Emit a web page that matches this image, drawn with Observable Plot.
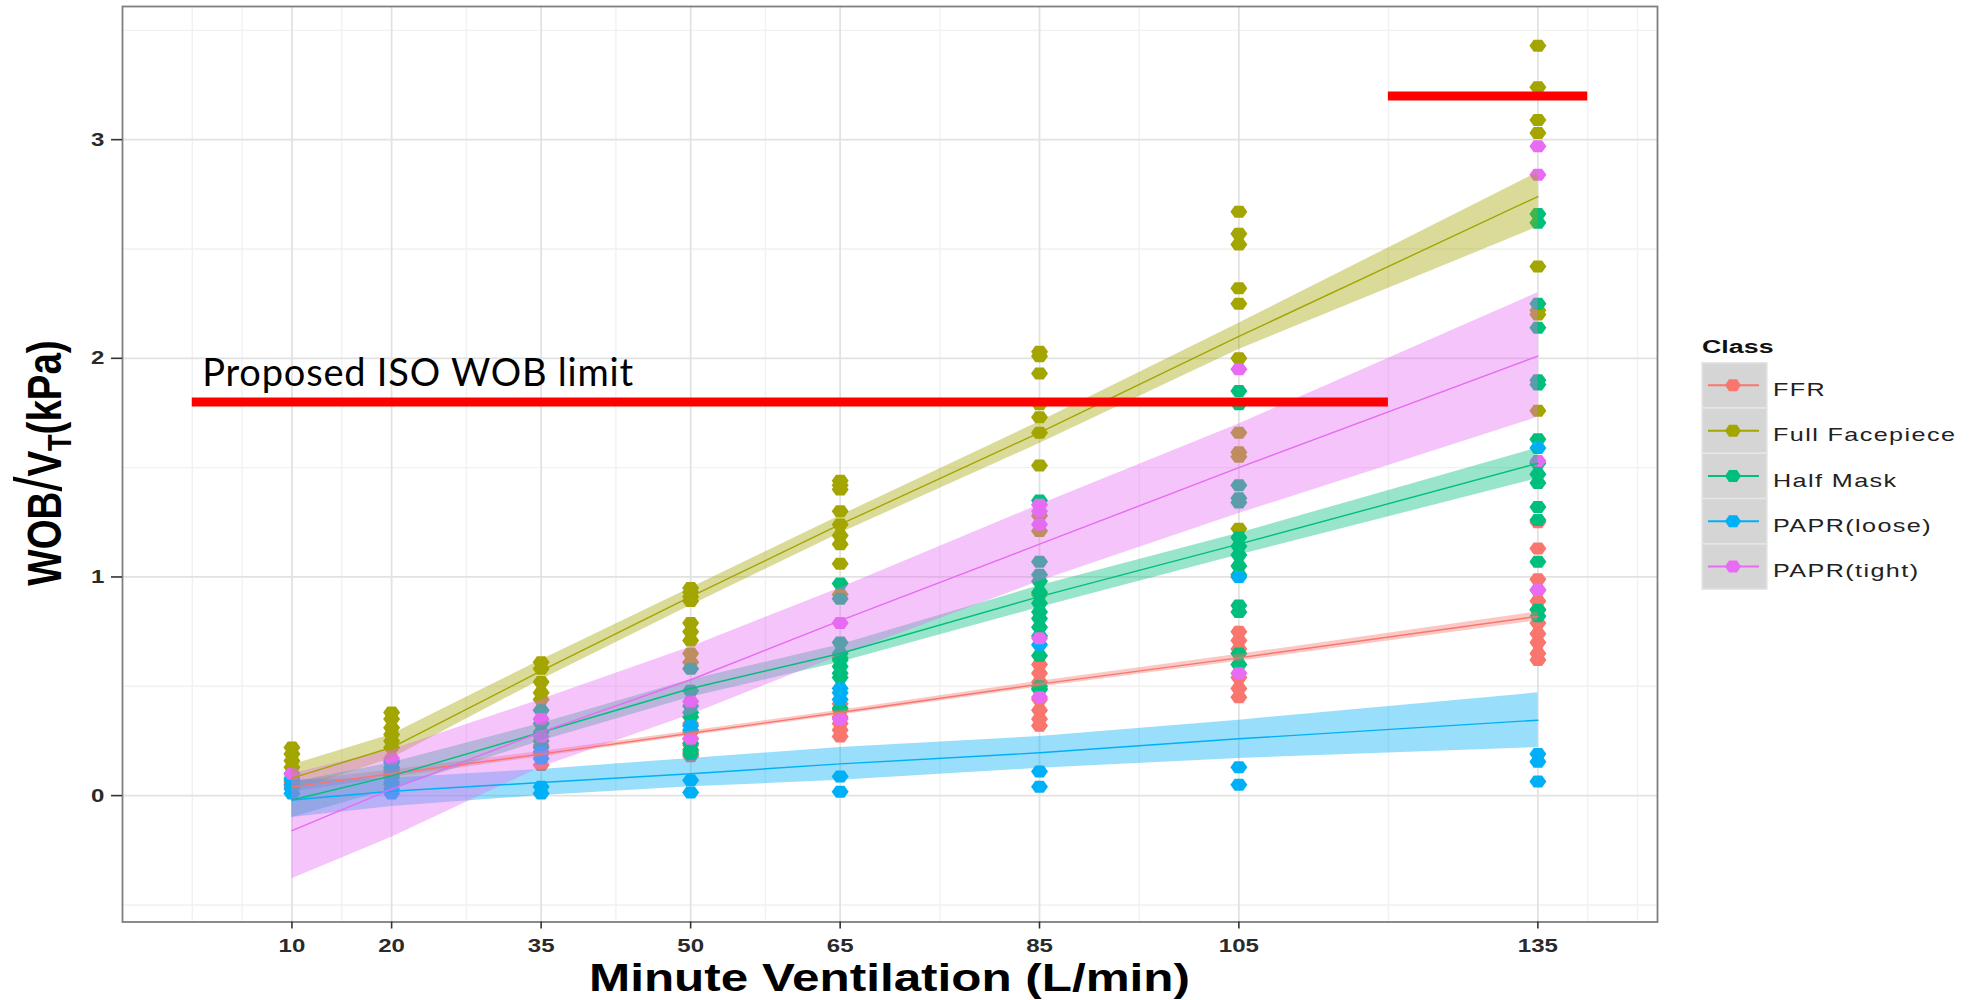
<!DOCTYPE html>
<html><head><meta charset="utf-8">
<script src="https://cdn.jsdelivr.net/npm/d3@7"></script>
<script src="https://cdn.jsdelivr.net/npm/@observablehq/plot@0.6"></script>
<style>
body{margin:0;background:#fff;}
#wrap{position:relative;width:1982px;height:1000px;overflow:hidden;background:#fff;}
#wrap svg{position:absolute;left:0;top:0;}
</style></head><body><div id="wrap"></div>
<script>
// ---------- categories / scales ----------
const classes = ["FFR", "Full Facepiece", "Half Mask", "PAPR(loose)", "PAPR(tight)"];
const classColors = ["#F8766D", "#A3A500", "#00BF7D", "#00B0F6", "#E76BF3"];
const xBreaks = [10, 20, 35, 50, 65, 85, 105, 135];
const xMinor = [0, 5, 15, 27.5, 42.5, 57.5, 75, 95, 120, 140, 145];
const yBreaks = [0, 1, 2, 3];
const yMinor = [-0.5, 0.5, 1.5, 2.5, 3.5];
const xTitle = "Minute Ventilation (L/min)";
const legendTitle = "Class";

// ---------- observed points [minute ventilation, WOB/VT] ----------
const ffrPoints = [
  [10,0.04],[10,0.06],
  [20,0.05],[20,0.08],[20,0.11],
  [35,0.14],[35,0.19],[35,0.23],
  [50,0.18],[50,0.20],[50,0.23],[50,0.26],[50,0.29],[50,0.33],
  [65,0.27],[65,0.30],[65,0.33],[65,0.36],[65,0.39],[65,0.42],
  [85,0.32],[85,0.35],[85,0.39],[85,0.44],[85,0.49],[85,0.52],[85,0.56],[85,0.60],
  [105,0.45],[105,0.49],[105,0.54],[105,0.67],[105,0.71],[105,0.75],
  [135,0.62],[135,0.65],[135,0.70],[135,0.74],[135,0.79],[135,0.85],[135,0.89],[135,0.94],[135,0.99],[135,1.13],[135,1.25]
];
const fullPoints = [
  [10,0.13],[10,0.16],[10,0.19],[10,0.22],
  [20,0.22],[20,0.25],[20,0.28],[20,0.31],[20,0.35],[20,0.38],
  [35,0.44],[35,0.47],[35,0.52],[35,0.58],[35,0.61],
  [50,0.61],[50,0.65],[50,0.71],[50,0.75],[50,0.79],[50,0.89],[50,0.91],[50,0.93],[50,0.95],
  [65,0.63],[65,0.92],[65,1.06],[65,1.15],[65,1.19],[65,1.24],[65,1.30],[65,1.40],[65,1.42],[65,1.44],
  [85,0.92],[85,1.21],[85,1.28],[85,1.51],[85,1.66],[85,1.73],[85,1.79],[85,1.93],[85,2.01],[85,2.03],
  [105,1.22],[105,1.55],[105,1.57],[105,1.66],[105,2.00],[105,2.25],[105,2.32],[105,2.52],[105,2.57],[105,2.67],
  [135,1.76],[135,2.20],[135,2.22],[135,2.42],[135,3.03],[135,3.09],[135,3.24],[135,3.43]
];
const halfPoints = [
  [10,0.07],[10,0.10],
  [20,0.09],[20,0.12],[20,0.15],
  [35,0.22],[35,0.25],[35,0.29],[35,0.33],[35,0.39],
  [50,0.19],[50,0.21],[50,0.24],[50,0.36],[50,0.38],[50,0.41],[50,0.48],[50,0.58],
  [65,0.40],[65,0.54],[65,0.56],[65,0.59],[65,0.62],[65,0.65],[65,0.70],[65,0.90],[65,0.97],
  [85,0.485],[85,0.50],[85,0.64],[85,0.73],[85,0.77],[85,0.81],[85,0.84],[85,0.88],[85,0.93],[85,0.98],[85,1.01],[85,1.07],[85,1.35],
  [105,0.60],[105,0.65],[105,0.84],[105,0.87],[105,1.01],[105,1.05],[105,1.10],[105,1.14],[105,1.18],[105,1.34],[105,1.36],[105,1.42],[105,1.79],[105,1.85],
  [135,0.82],[135,0.85],[135,1.07],[135,1.26],[135,1.32],[135,1.43],[135,1.47],[135,1.52],[135,1.63],[135,1.88],[135,1.90],[135,2.14],[135,2.25],[135,2.62],[135,2.66]
];
const loosePoints = [
  [10,0.01],[10,0.03],[10,0.05],[10,0.08],
  [20,0.01],[20,0.03],[20,0.06],[20,0.10],[20,0.13],[20,0.16],
  [35,0.01],[35,0.04],[35,0.17],[35,0.20],
  [50,0.014],[50,0.07],[50,0.30],[50,0.32],
  [65,0.018],[65,0.087],[65,0.44],[65,0.47],[65,0.49],
  [85,0.04],[85,0.11],[85,0.69],
  [105,0.05],[105,0.13],[105,1.00],
  [135,0.065],[135,0.155],[135,0.19],[135,1.59]
];
const tightPoints = [
  [10,0.10],
  [20,0.17],
  [35,0.27],[35,0.35],
  [50,0.26],[50,0.43],
  [65,0.35],[65,0.79],
  [85,0.45],[85,0.72],[85,1.24],[85,1.30],[85,1.33],
  [105,0.56],[105,1.95],
  [135,0.94],[135,1.53],[135,2.84],[135,2.97]
];
const pointsByClass = [ffrPoints, fullPoints, halfPoints, loosePoints, tightPoints];

// ---------- fitted line and confidence band, at each x break ----------
const ffrFit   = [0.04, 0.10, 0.19, 0.285, 0.38, 0.51, 0.63, 0.82];
const ffrLo    = [0.015, 0.083, 0.178, 0.274, 0.369, 0.497, 0.614, 0.80];
const ffrHi    = [0.065, 0.117, 0.202, 0.296, 0.391, 0.523, 0.646, 0.84];
const fullFit  = [0.08, 0.22, 0.57, 0.91, 1.24, 1.66, 2.10, 2.74];
const fullLo   = [0.02, 0.17, 0.53, 0.87, 1.20, 1.61, 2.04, 2.60];
const fullHi   = [0.14, 0.28, 0.62, 0.95, 1.28, 1.71, 2.16, 2.85];
const halfFit  = [-0.02, 0.09, 0.29, 0.49, 0.65, 0.91, 1.15, 1.52];
const halfLo   = [-0.10, 0.03, 0.25, 0.45, 0.61, 0.86, 1.10, 1.45];
const halfHi   = [0.06, 0.15, 0.33, 0.53, 0.69, 0.96, 1.20, 1.59];
const looseFit = [-0.02, 0.02, 0.06, 0.10, 0.145, 0.196, 0.26, 0.345];
const looseLo  = [-0.10, -0.05, 0.00, 0.04, 0.07, 0.125, 0.17, 0.22];
const looseHi  = [0.07, 0.08, 0.12, 0.17, 0.22, 0.27, 0.345, 0.47];
const tightFit = [-0.16, 0.03, 0.29, 0.53, 0.80, 1.15, 1.50, 2.01];
const tightLo  = [-0.38, -0.19, 0.13, 0.37, 0.64, 0.98, 1.29, 1.73];
const tightHi  = [0.10, 0.21, 0.44, 0.68, 0.95, 1.33, 1.70, 2.30];
const fitsByClass = [[ffrFit, ffrLo, ffrHi], [fullFit, fullLo, fullHi], [halfFit, halfLo, halfHi], [looseFit, looseLo, looseHi], [tightFit, tightLo, tightHi]];

// ---------- annotation (proposed limit) ----------
const isoLimits = [{x1: 0, x2: 120, y: 1.8}, {x1: 120, x2: 140, y: 3.2}];
const isoLabel = [{x: 1, y: 1.875, text: "Proposed ISO WOB limit"}];

// ---------- build tables ----------
const points = [];
pointsByClass.forEach((arr, i) => arr.forEach(([x, y]) => points.push({x, y, cls: classes[i]})));
const fits = [];
fitsByClass.forEach(([f, lo, hi], i) => xBreaks.forEach((x, j) => fits.push({x, fit: f[j], lo: lo[j], hi: hi[j], cls: classes[i]})));

const hexSymbol = {
  draw(ctx) {
    ctx.moveTo(-8.5, 0); ctx.lineTo(-4.2, -6); ctx.lineTo(4.2, -6);
    ctx.lineTo(8.5, 0); ctx.lineTo(4.2, 6); ctx.lineTo(-4.2, 6); ctx.closePath();
  }
};

const W = 1982, H = 1000;
const chart = Plot.plot({
  width: W, height: H,
  marginLeft: 122, marginRight: W - 1657, marginTop: 6, marginBottom: H - 921.5,
  style: {fontFamily: "'Liberation Sans', Arial, sans-serif", color: "#333", background: "transparent", overflow: "visible"},
  x: {domain: [-7, 147]},
  y: {domain: [-0.578, 3.609]},
  color: {domain: classes, range: classColors},
  marks: [
    Plot.gridX(xMinor, {stroke: "#f1f1f1", strokeOpacity: 1, strokeWidth: 1.4}),
    Plot.gridY(yMinor, {stroke: "#f1f1f1", strokeOpacity: 1, strokeWidth: 1.4}),
    Plot.gridX(xBreaks, {stroke: "#e2e2e2", strokeOpacity: 1, strokeWidth: 1.8}),
    Plot.gridY(yBreaks, {stroke: "#e2e2e2", strokeOpacity: 1, strokeWidth: 1.8}),
    Plot.dot(points, {x: "x", y: "y", fill: "cls", symbol: hexSymbol}),
    Plot.areaY(fits, {x: "x", y1: "lo", y2: "hi", fill: "cls", z: "cls", fillOpacity: 0.4}),
    Plot.line(fits, {x: "x", y: "fit", stroke: "cls", z: "cls", strokeWidth: 1.4}),
    Plot.ruleY(isoLimits, {y: "y", x1: "x1", x2: "x2", stroke: "#FF0000", strokeWidth: 9}),
    Plot.text(isoLabel, {x: "x", y: "y", text: "text", textAnchor: "start", lineAnchor: "bottom", fontSize: 38, fontFamily: "Lato, 'Open Sans', sans-serif", fill: "#000"}),
    Plot.frame({stroke: "#7f7f7f", strokeWidth: 1.8}),
    Plot.axisX({ticks: xBreaks, tickSize: 7, tickPadding: 10, label: null, tickFormat: d => String(d)}),
    Plot.axisY({ticks: yBreaks, tickSize: 11, tickPadding: 7, label: null, tickFormat: d => String(d)})
  ]
});
document.getElementById("wrap").appendChild(chart);

const svg = d3.select(chart);
svg.select('g[aria-label="text"] text').attr("letter-spacing", 0.8);
// stretch tick labels horizontally like the reference
svg.selectAll('g[aria-label="x-axis tick label"], g[aria-label="y-axis tick label"]')
  .attr("font-size", 18.5).attr("fill", "#2a2a2a").attr("font-weight", 600);
svg.selectAll('g[aria-label="x-axis tick label"] text, g[aria-label="y-axis tick label"] text')
  .each(function() { const t = d3.select(this).attr("transform") || ""; d3.select(this).attr("transform", t + " scale(1.3,1)"); });
svg.selectAll('g[aria-label="x-axis tick"], g[aria-label="y-axis tick"]').attr("stroke", "#333").attr("stroke-width", 1.6);

// axis titles
svg.append("text").attr("transform", "translate(889.5,991) scale(1.3,1)")
  .attr("text-anchor", "middle").attr("font-weight", "bold").attr("font-size", 38)
  .attr("font-family", "'Liberation Sans', Arial, sans-serif").attr("fill", "#000").text(xTitle);
const yt = svg.append("text").attr("transform", "translate(61,463) rotate(-90) scale(1,1.25)")
  .attr("text-anchor", "middle").attr("font-weight", "bold").attr("font-size", 38.5)
  .attr("font-family", "'Liberation Sans', Arial, sans-serif").attr("fill", "#000");
yt.append("tspan").text("WOB");
yt.append("tspan").text("/").attr("font-weight", "normal").attr("font-size", 54);
yt.append("tspan").text("V");
yt.append("tspan").text("T").attr("font-size", 27).attr("dy", 8);
yt.append("tspan").text("(kPa)").attr("dy", -8);

// legend
const lg = d3.select("#wrap").append("svg").attr("width", W).attr("height", H).style("pointer-events", "none");
const lx = 1702, ly = 362.7, kw = 65, kh = 45.3;
lg.append("text").attr("transform", `translate(${lx},353) scale(1.45,1)`).attr("font-weight", "bold")
  .attr("font-size", 18.5).attr("font-family", "'Liberation Sans', Arial, sans-serif").attr("fill", "#111").text(legendTitle);
classes.forEach((c, i) => {
  const y0 = ly + i * kh, cy = y0 + kh / 2;
  lg.append("rect").attr("x", lx).attr("y", y0).attr("width", kw).attr("height", kh)
    .attr("fill", "#d5d5d5").attr("stroke", "#e6e6e6").attr("stroke-width", 1.5);
  lg.append("line").attr("x1", lx + 6).attr("x2", lx + kw - 8).attr("y1", cy).attr("y2", cy)
    .attr("stroke", classColors[i]).attr("stroke-width", 2);
  lg.append("path").attr("transform", `translate(${lx + 31},${cy})`)
    .attr("d", "M-8,0L-4,-6L4,-6L8,0L4,6L-4,6Z").attr("fill", classColors[i]);
  lg.append("text").attr("transform", `translate(${lx + 71},${cy + 10.7}) scale(1.4,1)`)
    .attr("font-size", 18).attr("letter-spacing", 1)
    .attr("font-family", "'Liberation Sans', Arial, sans-serif").attr("fill", "#222").text(c);
});
</script></body></html>
